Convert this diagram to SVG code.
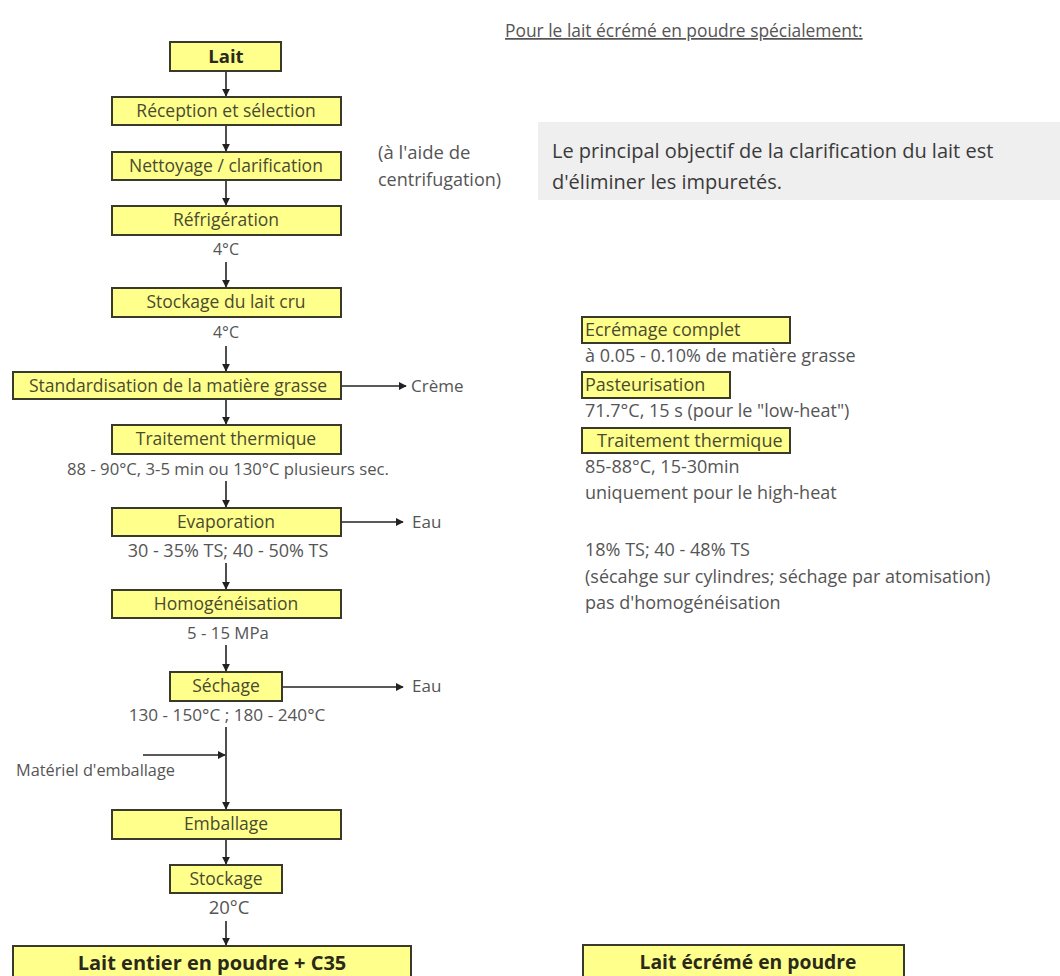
<svg xmlns="http://www.w3.org/2000/svg" width="1060" height="976" viewBox="0 0 1060 976">
<style>
.box{fill:#ffff8c;stroke:#3a3a2a;stroke-width:2}
.lbl{font-family:"Open Sans",sans-serif;font-size:17.5px;fill:#4a4a30;text-anchor:middle}
.st{text-anchor:start}
.b{font-weight:bold;fill:#2a2a1a}
.ann{font-family:"Open Sans",sans-serif;font-size:16.5px;fill:#555}
.ann2{font-family:"Open Sans",sans-serif;font-size:18px;fill:#555}
.mid{text-anchor:middle}
.cn{stroke:#222;stroke-width:1.6;fill:none}
</style>
<defs>
<marker id="ah" viewBox="0 0 10 10" refX="9" refY="5" markerWidth="5" markerHeight="5" orient="auto" markerUnits="strokeWidth">
<path d="M0,0 L10,5 L0,10 z" fill="#222"/>
</marker>
</defs>
<rect width="1060" height="976" fill="#fff"/>

<g id="connectors">
<line class="cn" x1="226" y1="71" x2="226" y2="96" marker-end="url(#ah)"/>
<line class="cn" x1="226" y1="125" x2="226" y2="151" marker-end="url(#ah)"/>
<line class="cn" x1="226" y1="180" x2="226" y2="205" marker-end="url(#ah)"/>
<line class="cn" x1="226" y1="262" x2="226" y2="287" marker-end="url(#ah)"/>
<line class="cn" x1="226" y1="346" x2="226" y2="371" marker-end="url(#ah)"/>
<line class="cn" x1="226" y1="399" x2="226" y2="424" marker-end="url(#ah)"/>
<line class="cn" x1="226" y1="481" x2="226" y2="507" marker-end="url(#ah)"/>
<line class="cn" x1="226" y1="563" x2="226" y2="589" marker-end="url(#ah)"/>
<line class="cn" x1="226" y1="645" x2="226" y2="671" marker-end="url(#ah)"/>
<line class="cn" x1="226" y1="727" x2="226" y2="809" marker-end="url(#ah)"/>
<line class="cn" x1="226" y1="839" x2="226" y2="864" marker-end="url(#ah)"/>
<line class="cn" x1="226" y1="921" x2="226" y2="945" marker-end="url(#ah)"/>
<line class="cn" x1="341" y1="386" x2="406" y2="386" marker-end="url(#ah)"/>
<line class="cn" x1="341" y1="522" x2="403" y2="522" marker-end="url(#ah)"/>
<line class="cn" x1="282" y1="687" x2="403" y2="687" marker-end="url(#ah)"/>
<line class="cn" x1="143" y1="755" x2="225" y2="755" marker-end="url(#ah)"/>
</g>

<g id="n-lait"><rect class="box" x="170" y="42" width="111" height="29"/><text class="lbl b" x="226" y="63" style="font-size:18.5px">Lait</text></g>
<g id="n-reception"><rect class="box" x="112" y="97" width="229" height="28"/><text class="lbl" x="226" y="117">Réception et sélection</text></g>
<g id="n-nettoyage"><rect class="box" x="112" y="152" width="229" height="28"/><text class="lbl" x="226" y="172">Nettoyage / clarification</text></g>
<g id="n-refrigeration"><rect class="box" x="112" y="206" width="229" height="29"/><text class="lbl" x="226" y="226">Réfrigération</text><text class="ann mid" x="226" y="255" style="font-size:16px">4°C</text></g>
<g id="n-stockage-cru"><rect class="box" x="112" y="288" width="229" height="29"/><text class="lbl" x="226" y="308">Stockage du lait cru</text><text class="ann mid" x="226" y="338" style="font-size:16px">4°C</text></g>
<g id="n-standard"><rect class="box" x="13" y="372" width="328" height="27"/><text class="lbl" x="178" y="392">Standardisation de la matière grasse</text></g>
<g id="n-creme"><text class="ann" x="411" y="392" style="font-size:17px">Crème</text></g>
<g id="n-traitement"><rect class="box" x="112" y="425" width="229" height="29"/><text class="lbl" x="226" y="445">Traitement thermique</text><text class="ann mid" x="228" y="475" style="font-size:16.7px">88 - 90°C, 3-5 min ou 130°C plusieurs sec.</text></g>
<g id="n-evaporation"><rect class="box" x="112" y="508" width="229" height="28"/><text class="lbl" x="226" y="528">Evaporation</text><text class="ann mid" x="228" y="557" style="font-size:18px">30 - 35% TS; 40 - 50% TS</text></g>
<g id="n-eau1"><text class="ann" x="412" y="528" style="font-size:17px">Eau</text></g>
<g id="n-homog"><rect class="box" x="112" y="590" width="229" height="28"/><text class="lbl" x="226" y="610">Homogénéisation</text><text class="ann mid" x="228" y="639" style="font-size:16.8px">5 - 15 MPa</text></g>
<g id="n-sechage"><rect class="box" x="170" y="672" width="112" height="29"/><text class="lbl" x="226" y="692">Séchage</text><text class="ann mid" x="227" y="721" style="font-size:17.2px">130 - 150°C ; 180 - 240°C</text></g>
<g id="n-eau2"><text class="ann" x="412" y="692" style="font-size:17px">Eau</text></g>
<g id="n-materiel"><text class="ann" x="16" y="776" style="font-size:16.3px">Matériel d'emballage</text></g>
<g id="n-emballage"><rect class="box" x="112" y="810" width="229" height="29"/><text class="lbl" x="226" y="830">Emballage</text></g>
<g id="n-stockage"><rect class="box" x="170" y="865" width="112" height="28"/><text class="lbl" x="226" y="885">Stockage</text><text class="ann mid" x="229" y="914" style="font-size:18.5px">20°C</text></g>
<g id="n-final1"><rect class="box" x="13" y="946" width="398" height="34"/><text class="lbl b" x="212" y="970" style="font-size:20px">Lait entier en poudre + C35</text></g>

<g id="n-aide"><text class="ann" x="378" y="159" style="font-size:18.5px">(à l'aide de</text><text class="ann" x="378" y="186" style="font-size:18px">centrifugation)</text></g>

<g id="n-title"><text class="ann" x="505" y="37" style="font-size:17.4px" text-decoration="underline">Pour le lait écrémé en poudre spécialement:</text></g>

<g id="n-note"><rect x="538" y="122" width="522" height="78" fill="#efefef"/><text font-family="'Open Sans',sans-serif" font-size="20" fill="#3a3a3a" x="552" y="158">Le principal objectif de la clarification du lait est</text><text font-family="'Open Sans',sans-serif" font-size="20" fill="#3a3a3a" x="552" y="189">d'éliminer les impuretés.</text></g>

<g id="n-ecremage"><rect class="box" x="582" y="317" width="208" height="26"/><text class="lbl st" x="585" y="336" style="font-size:18px">Ecrémage complet</text><text class="ann2" x="585" y="362">à 0.05 - 0.10% de matière grasse</text></g>
<g id="n-pasteur"><rect class="box" x="582" y="372" width="148" height="26"/><text class="lbl st" x="585" y="391" style="font-size:18px">Pasteurisation</text><text class="ann2" x="585" y="417">71.7°C, 15 s (pour le "low-heat")</text></g>
<g id="n-traitement2"><rect class="box" x="582" y="428" width="208" height="25"/><text class="lbl st" x="597" y="447" style="font-size:18px">Traitement thermique</text><text class="ann2" x="585" y="473">85-88°C, 15-30min</text><text class="ann2" x="585" y="499">uniquement pour le high-heat</text></g>
<g id="n-ts"><text class="ann2" x="585" y="556">18% TS; 40 - 48% TS</text><text class="ann2" x="585" y="583">(sécahge sur cylindres; séchage par atomisation)</text><text class="ann2" x="585" y="609">pas d'homogénéisation</text></g>
<g id="n-final2"><rect class="box" x="583" y="945" width="321" height="35"/><text class="lbl b" x="748" y="969" style="font-size:19.3px">Lait écrémé en poudre</text></g>
</svg>
